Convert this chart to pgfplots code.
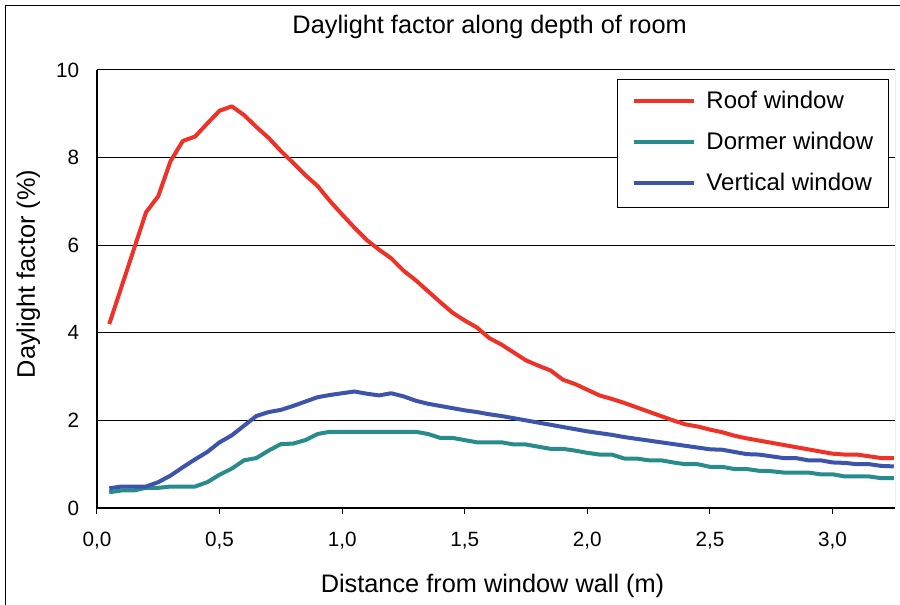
\documentclass[border=0pt]{standalone}
\usepackage{pgfplots}
\pgfplotsset{compat=1.18}
\usepackage{fontspec}
\setmainfont{Liberation Sans}
\newlength\px \setlength\px{0.75pt}
\definecolor{roof}{RGB}{238,50,40}
\definecolor{dormer}{RGB}{40,140,140}
\definecolor{vertical}{RGB}{60,85,170}
\begin{document}
\begin{tikzpicture}
\path[use as bounding box] (0,0) rectangle (900\px,-605\px);
\draw[line width=0.75pt] (5.5\px,-605\px) -- (5.5\px,-5.5\px) -- (900\px,-5.5\px);
\begin{axis}[
  at={(97\px,-508\px)}, anchor=south west,
  scale only axis, width=798\px, height=438\px,
  xmin=0, xmax=3.255, ymin=0, ymax=10,
  axis x line*=bottom, axis y line*=left,
  axis line style={line width=1.1\px, black},
  xtick={0,0.5,1,1.5,2,2.5,3},
  xticklabels={{0,0},{0,5},{1,0},{1,5},{2,0},{2,5},{3,0}},
  ytick={0,2,4,6,8,10},
  tick align=outside, major tick length=5.5\px,
  xtick style={line width=1\px, black},
  ytick style={draw=none},
  ymajorgrids, major grid style={line width=1\px, black},
  /pgf/number format/assume math mode=true,
  ticklabel style={font=\fontsize{15.5}{18}\selectfont},
  xticklabel style={anchor=base, inner sep=0pt, yshift=-33\px},
  yticklabel style={anchor=east, inner sep=0pt, xshift=-12\px},
  title={Daylight factor along depth of room},
  title style={at={(axis description cs:0.492,1.0646)}, anchor=base, font=\fontsize{19}{22}\selectfont},
  xlabel={Distance from window wall (m)},
  xlabel style={at={(axis description cs:0.4956,-0.194)}, anchor=base, font=\fontsize{19}{22}\selectfont},
  ylabel={Daylight factor (\%)},
  ylabel style={at={(axis description cs:-0.0777,0.534)}, anchor=base, rotate=0, font=\fontsize{19}{22}\selectfont},
  legend style={at={(axis description cs:0.6516,0.979)}, anchor=north west,
    draw=black, line width=1\px, inner xsep=15\px, inner ysep=12\px,
    row sep=19\px, column sep=10\px,
    nodes={inner sep=0pt, text height=17\px, text depth=5\px, anchor=base west},
    font=\fontsize{18}{21}\selectfont},
  legend cell align=left,
  legend image code/.code={\path[draw=none,fill=none] (0,-5\px) rectangle (60\px,17\px);
    \draw[#1, line width=4\px] (0,8\px) -- (60\px,8\px);},
  every axis plot/.append style={line width=4\px, line join=round},
]
\addplot[roof] table {
x y
0.05 4.2
0.10 5.05
0.15 5.9
0.20 6.75
0.25 7.12
0.30 7.92
0.35 8.38
0.40 8.48
0.45 8.78
0.50 9.07
0.55 9.17
0.60 8.97
0.65 8.7
0.70 8.45
0.75 8.15
0.80 7.88
0.85 7.6
0.90 7.35
0.95 7.01
1.00 6.7
1.05 6.4
1.10 6.12
1.15 5.9
1.20 5.7
1.25 5.42
1.30 5.2
1.35 4.95
1.40 4.7
1.45 4.46
1.50 4.28
1.55 4.12
1.60 3.88
1.65 3.73
1.70 3.55
1.75 3.37
1.80 3.25
1.85 3.14
1.90 2.93
1.95 2.83
2.00 2.7
2.05 2.57
2.10 2.49
2.15 2.4
2.20 2.3
2.25 2.2
2.30 2.1
2.35 2.0
2.40 1.91
2.45 1.86
2.50 1.79
2.55 1.73
2.60 1.65
2.65 1.59
2.70 1.54
2.75 1.49
2.80 1.44
2.85 1.39
2.90 1.34
2.95 1.29
3.00 1.24
3.05 1.22
3.10 1.22
3.15 1.18
3.20 1.14
3.25 1.14
};
\addlegendentry{Roof window}
\addplot[dormer] table {
x y
0.05 0.36
0.10 0.40
0.15 0.40
0.20 0.46
0.25 0.46
0.30 0.49
0.35 0.49
0.40 0.49
0.45 0.59
0.50 0.76
0.55 0.90
0.60 1.09
0.65 1.14
0.70 1.31
0.75 1.46
0.80 1.47
0.85 1.55
0.90 1.69
0.95 1.74
1.00 1.74
1.05 1.74
1.10 1.74
1.15 1.74
1.20 1.74
1.25 1.74
1.30 1.74
1.35 1.69
1.40 1.60
1.45 1.60
1.50 1.55
1.55 1.50
1.60 1.50
1.65 1.50
1.70 1.45
1.75 1.45
1.80 1.40
1.85 1.35
1.90 1.35
1.95 1.31
2.00 1.26
2.05 1.22
2.10 1.22
2.15 1.13
2.20 1.13
2.25 1.09
2.30 1.09
2.35 1.04
2.40 1.00
2.45 1.00
2.50 0.94
2.55 0.94
2.60 0.89
2.65 0.89
2.70 0.85
2.75 0.84
2.80 0.81
2.85 0.81
2.90 0.81
2.95 0.77
3.00 0.77
3.05 0.72
3.10 0.72
3.15 0.72
3.20 0.68
3.25 0.68
};
\addlegendentry{Dormer window}
\addplot[vertical] table {
x y
0.05 0.45
0.10 0.49
0.15 0.49
0.20 0.49
0.25 0.59
0.30 0.74
0.35 0.93
0.40 1.11
0.45 1.28
0.50 1.50
0.55 1.66
0.60 1.88
0.65 2.10
0.70 2.19
0.75 2.24
0.80 2.33
0.85 2.43
0.90 2.53
0.95 2.58
1.00 2.62
1.05 2.66
1.10 2.61
1.15 2.57
1.20 2.62
1.25 2.55
1.30 2.45
1.35 2.38
1.40 2.33
1.45 2.28
1.50 2.23
1.55 2.19
1.60 2.14
1.65 2.10
1.70 2.05
1.75 2.00
1.80 1.95
1.85 1.90
1.90 1.85
1.95 1.80
2.00 1.75
2.05 1.71
2.10 1.67
2.15 1.62
2.20 1.58
2.25 1.54
2.30 1.50
2.35 1.46
2.40 1.42
2.45 1.38
2.50 1.34
2.55 1.33
2.60 1.28
2.65 1.23
2.70 1.22
2.75 1.18
2.80 1.14
2.85 1.14
2.90 1.09
2.95 1.09
3.00 1.04
3.05 1.03
3.10 1.00
3.15 1.00
3.20 0.96
3.25 0.95
};
\addlegendentry{Vertical window}
\draw[line width=1\px, gray] (rel axis cs:1,0) -- (rel axis cs:1,1);
\end{axis}
\end{tikzpicture}
\end{document}
